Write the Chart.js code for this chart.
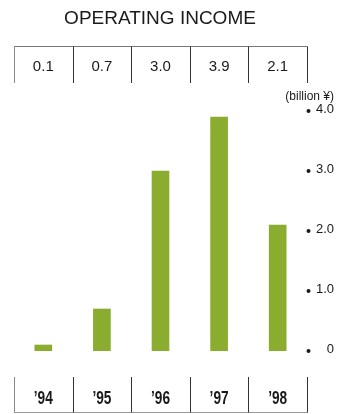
<!DOCTYPE html>
<html>
<head>
<meta charset="utf-8">
<title>Operating Income</title>
<script src="https://cdn.jsdelivr.net/npm/chart.js@4"></script>
<style>
  html, body { margin: 0; padding: 0; background: #fff; }
  canvas { display: block; }
</style>
</head>
<body>
<canvas id="chart" width="350" height="414"></canvas>
<script>
// Fiscal years and operating income (billion yen)
const years = ['\u201994', '\u201995', '\u201996', '\u201997', '\u201998'];
const income = [0.1, 0.7, 3.0, 3.9, 2.1];
const valueLabels = ['0.1', '0.7', '3.0', '3.9', '2.1'];
const tickValues = [0, 1, 2, 3, 4];
const tickLabels = ['0', '1.0', '2.0', '3.0', '4.0'];

const TEXT = '#1a1a1a';
const BAR = '#8aad30';

// Title, value table above, year table below and the right-hand scale
const frame = {
  id: 'frame',
  afterDraw(chart) {
    const ctx = chart.ctx;
    const x = chart.scales.x;
    const y = chart.scales.y;
    const half = x.width / years.length / 2;
    const left = x.left, right = x.right;

    ctx.save();
    ctx.fillStyle = TEXT;

    // title
    ctx.font = '19px "Liberation Sans", Arial, sans-serif';
    ctx.textAlign = 'center';
    ctx.textBaseline = 'alphabetic';
    ctx.fillText('OPERATING INCOME', 160, 24);

    // value table
    const topY = 46.5, topB = 83;
    ctx.lineWidth = 1;
    ctx.strokeStyle = '#777';
    ctx.beginPath();
    ctx.moveTo(left, topY); ctx.lineTo(right + 0.5, topY);
    ctx.stroke();
    for (let i = 0; i <= years.length; i++) {
      const px = Math.round(left + i * half * 2) + 0.5;
      ctx.strokeStyle = (i === 0) ? '#888' : '#333';
      ctx.beginPath();
      ctx.moveTo(px, topY); ctx.lineTo(px, topB);
      ctx.stroke();
    }
    ctx.font = '15px "Liberation Sans", Arial, sans-serif';
    valueLabels.forEach((t, i) => {
      ctx.fillText(t, x.getPixelForValue(i), 71);
    });

    // year table
    const botT = 377, botY = 412.5;
    ctx.strokeStyle = '#999';
    ctx.beginPath();
    ctx.moveTo(left, botY); ctx.lineTo(right + 0.5, botY);
    ctx.stroke();
    for (let i = 0; i <= years.length; i++) {
      const px = Math.round(left + i * half * 2) + 0.5;
      ctx.strokeStyle = (i === 0) ? '#888' : '#333';
      ctx.beginPath();
      ctx.moveTo(px, botT); ctx.lineTo(px, botY);
      ctx.stroke();
    }
    // condensed bold year labels
    ctx.font = 'bold 18px "Liberation Sans", Arial, sans-serif';
    years.forEach((t, i) => {
      const cx = x.getPixelForValue(i);
      ctx.save();
      ctx.translate(cx, 404);
      ctx.scale(0.76, 1);
      ctx.fillText(t, 0, 0);
      ctx.restore();
    });

    // scale: dots and labels
    ctx.font = '13px "Liberation Sans", Arial, sans-serif';
    ctx.textAlign = 'right';
    ctx.textBaseline = 'middle';
    tickValues.forEach((v, i) => {
      const py = y.getPixelForValue(v);
      ctx.beginPath();
      ctx.arc(308.5, py, 2, 0, Math.PI * 2);
      ctx.fill();
      ctx.fillText(tickLabels[i], 334, py - 2);
    });
    ctx.font = '12px "Liberation Sans", Arial, sans-serif';
    ctx.textBaseline = 'alphabetic';
    ctx.fillText('(billion \u00a5)', 334, 100);

    ctx.restore();
  }
};

new Chart(document.getElementById('chart'), {
  type: 'bar',
  data: {
    labels: years,
    datasets: [{
      data: income,
      backgroundColor: BAR,
      borderWidth: 0,
      barThickness: 17
    }]
  },
  options: {
    responsive: false,
    animation: false,
    devicePixelRatio: 1,
    layout: { padding: { left: 14, right: 43, top: 111, bottom: 63 } },
    plugins: { legend: { display: false }, tooltip: { enabled: false }, title: { display: false } },
    scales: {
      x: { display: false, offset: true },
      y: { display: false, min: 0, max: 4 }
    }
  },
  plugins: [frame]
});
</script>
</body>
</html>
